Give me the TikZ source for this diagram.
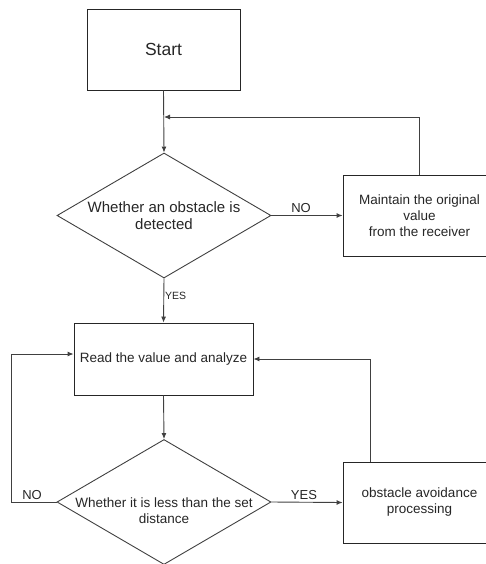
\documentclass[tikz,border=0pt]{standalone}
\usepackage{fontspec}
\setmainfont{Liberation Sans}
\usetikzlibrary{shapes.geometric,arrows.meta}
\begin{document}
\begin{tikzpicture}[x=1pt,y=-1pt,
 box/.style={draw=black!85,line width=0.9pt,rectangle,inner sep=0pt,align=center,font=\fontsize{13.5}{16}\selectfont,text=black!85},
 dec/.style={draw=black!75,line width=0.9pt,diamond,inner sep=0pt,minimum width=214pt,minimum height=125pt},
 dtext/.style={align=center,font=\fontsize{15}{17.5}\selectfont,text=black!85},
 conn/.style={draw=black!75,line width=0.9pt,-{Latex[length=6pt,width=5pt]}},
 lbl/.style={font=\fontsize{13}{15}\selectfont,text=black!85,inner sep=0pt},
 slbl/.style={font=\fontsize{10.5}{12}\selectfont,text=black!85,inner sep=0pt}]
\useasboundingbox (0,0) rectangle (486,564);
\node[box,minimum width=153pt,minimum height=81pt,font=\fontsize{17.5}{20}\selectfont] (start) at (163.5,49.5) {Start};
\node[dec] (d1) at (164,215.5) {};
\node[dtext] (t1) at (d1.center) {Whether an obstacle is\\detected};
\node[box,minimum width=153pt,minimum height=81pt] (m) at (419.5,215.5) {Maintain the original\\value\\from the receiver};
\node[box,minimum width=179pt,minimum height=72pt] (r) at (163.5,359) {Read the value and analyze};
\node[dec] (d2) at (164,502) {};
\node[dtext,font=\fontsize{13.5}{16}\selectfont] (t2) at (164,511) {Whether it is less than the set\\distance};
\node[box,minimum width=153pt,minimum height=81pt] (o) at (419.5,502.5) {obstacle avoidance\\processing};
\coordinate (j1) at (164,117);
\coordinate (o1) at (370,462);
\coordinate (nl) at (11,354);
\draw[conn] (start.south) -- (d1.north);
\draw[conn] (m.north) |- (j1);
\draw[conn] (d1.east) -- (m.west);
\node[lbl] (no1) at (301,208) {NO};
\draw[conn] (d1.south) -- (r.north);
\node[slbl,anchor=west] (yes1) at (165,296) {YES};
\draw[conn] (r.south) -- (d2.north);
\draw[conn] (d2.east) -- (o.west);
\node[lbl] (yes2) at (304,495) {YES};
\draw[conn] (o1) |- (r.east);
\draw[conn] (d2.west) -| (nl) -- (nl -| r.west);
\node[lbl] (no2) at (32,495) {NO};
\end{tikzpicture}
\end{document}
